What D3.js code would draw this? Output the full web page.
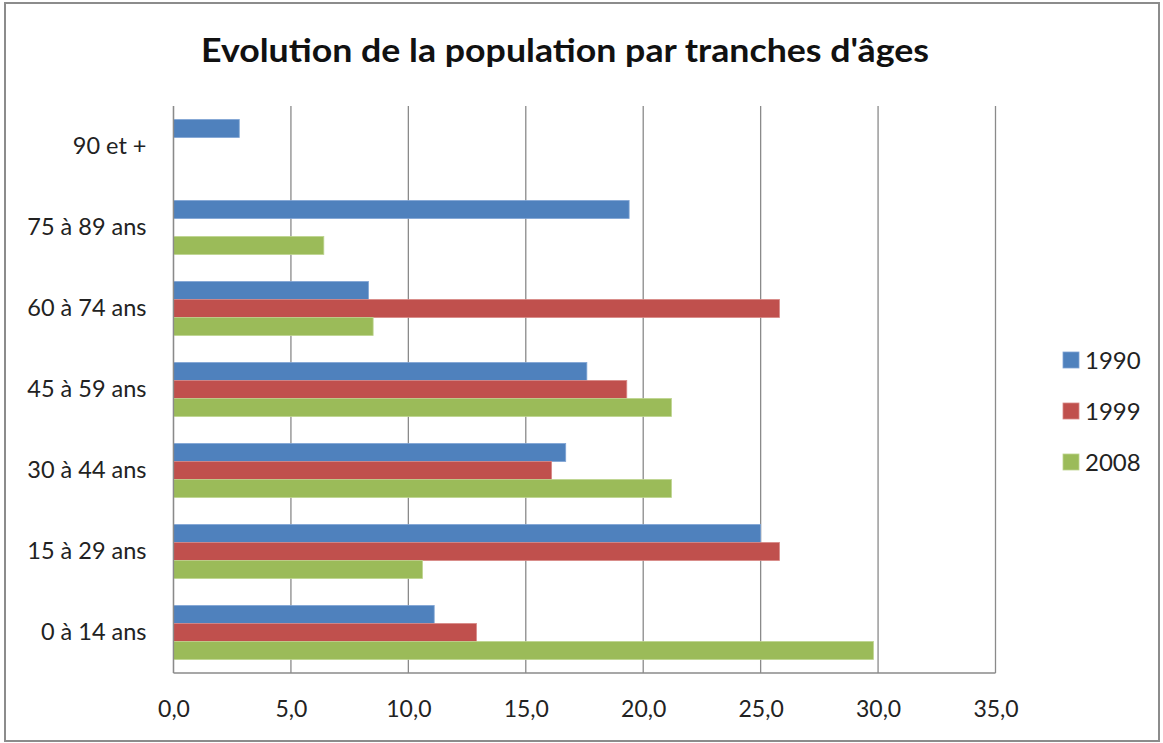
<!DOCTYPE html>
<html>
<head>
<meta charset="utf-8">
<script src="https://cdn.jsdelivr.net/npm/d3@7"></script>
<style>
  html, body { margin: 0; padding: 0; background: #fff; }
  svg { display: block; }
</style>
</head>
<body>
<svg id="chart" width="1163" height="743"></svg>
<script>
// ---- data ----
const categories = ["0 à 14 ans", "15 à 29 ans", "30 à 44 ans", "45 à 59 ans", "60 à 74 ans", "75 à 89 ans", "90 et +"];
const seriesNames = ["1990", "1999", "2008"];
const values1990 = [11.1, 25.0, 16.7, 17.6, 8.3, 19.4, 2.8];
const values1999 = [12.9, 25.8, 16.1, 19.3, 25.8, null, null];
const values2008 = [29.8, 10.6, 21.2, 21.2, 8.5, 6.4, null];
const xTicks = [0, 5, 10, 15, 20, 25, 30, 35];
const colors = ["#4F81BD", "#C0504D", "#9BBB59"];
const strokeColors = ["#7FA4D4", "#D88886", "#BDD48E"];
const titleText = "Evolution de la population par tranches d'âges";

const seriesValues = [values1990, values1999, values2008];
const font = "Lato, 'Open Sans', sans-serif";

const svg = d3.select("#chart");

// outer frame
svg.append("rect")
  .attr("x", 5).attr("y", 3).attr("width", 1154).attr("height", 738)
  .attr("fill", "#fff").attr("stroke", "#8c8c8c").attr("stroke-width", 2);

const plot = { left: 173.5, right: 995.5, top: 106, bottom: 673 };

const x = d3.scaleLinear().domain([0, 35]).range([plot.left, plot.right]);
const y = d3.scaleBand()
  .domain(categories.slice().reverse())
  .range([plot.top, plot.bottom])
  .paddingInner(1 / 3)
  .paddingOuter(1 / 6);
const ySub = d3.scaleBand().domain(seriesNames).range([0, y.bandwidth()]);

// gridlines
svg.append("g")
  .selectAll("line")
  .data(xTicks)
  .join("line")
  .attr("x1", d => x(d)).attr("x2", d => x(d))
  .attr("y1", plot.top).attr("y2", plot.bottom)
  .attr("stroke", "#8a8a8a").attr("stroke-width", 1.3);

// bars
const groups = svg.append("g")
  .selectAll("g")
  .data(categories)
  .join("g")
  .attr("transform", d => `translate(0,${y(d)})`);

groups.selectAll("rect")
  .data((c, i) => seriesNames.map((s, k) => ({ s, k, v: seriesValues[k][i] })).filter(d => d.v != null))
  .join("rect")
  .attr("x", x(0))
  .attr("y", d => ySub(d.s))
  .attr("width", d => x(d.v) - x(0))
  .attr("height", ySub.bandwidth())
  .attr("fill", d => colors[d.k])
  .attr("stroke", d => strokeColors[d.k])
  .attr("stroke-width", 0.8);

// axes lines
svg.append("line")
  .attr("x1", plot.left).attr("x2", plot.right)
  .attr("y1", plot.bottom).attr("y2", plot.bottom)
  .attr("stroke", "#8a8a8a").attr("stroke-width", 1.3);
svg.append("line")
  .attr("x1", plot.left).attr("x2", plot.left)
  .attr("y1", plot.top).attr("y2", plot.bottom)
  .attr("stroke", "#8a8a8a").attr("stroke-width", 1.3);

// x axis labels
const xAxis = d3.axisBottom(x).tickValues(xTicks)
  .tickFormat(d => d3.format(".1f")(d).replace(".", ","))
  .tickSize(0).tickPadding(28);
const gx = svg.append("g").attr("transform", `translate(0,${plot.bottom})`).call(xAxis);
gx.select(".domain").remove();
gx.selectAll("text").attr("font-family", font).attr("font-size", 23).attr("fill", "#222");

// y axis labels
const yAxis = d3.axisLeft(y).tickSize(0).tickPadding(27);
const gy = svg.append("g").attr("transform", `translate(${plot.left},0)`).call(yAxis);
gy.select(".domain").remove();
gy.selectAll("text").attr("font-family", font).attr("font-size", 23.5).attr("fill", "#222");

// title
svg.append("text")
  .attr("x", 565).attr("y", 62)
  .attr("text-anchor", "middle")
  .attr("font-family", font).attr("font-weight", "bold").attr("font-size", 33)
  .attr("textLength", 728).attr("lengthAdjust", "spacingAndGlyphs")
  .attr("fill", "#111")
  .text(titleText);

// legend
const legend = svg.append("g")
  .selectAll("g")
  .data(seriesNames)
  .join("g")
  .attr("transform", (d, i) => `translate(1063,${360 + i * 51})`);
legend.append("rect")
  .attr("x", 0).attr("y", -8).attr("width", 16).attr("height", 16)
  .attr("fill", (d, i) => colors[i]).attr("stroke", (d, i) => strokeColors[i]).attr("stroke-width", 0.8);
legend.append("text")
  .attr("x", 22).attr("y", 0).attr("dy", "0.36em")
  .attr("font-family", font).attr("font-size", 24).attr("fill", "#222")
  .text(d => d);
</script>
</body>
</html>
